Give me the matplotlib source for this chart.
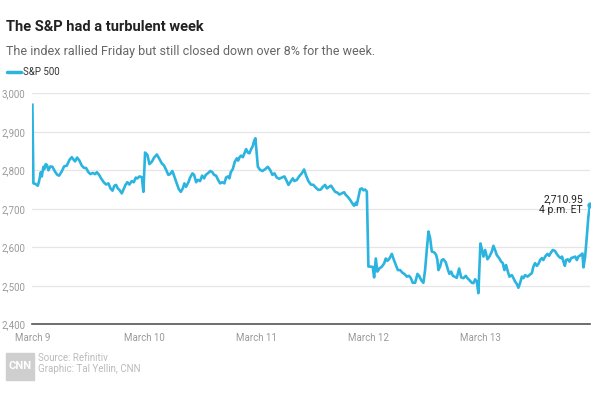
import numpy as np
import matplotlib.pyplot as plt
from matplotlib.patches import Rectangle

# ── data: S&P 500 intraday, position within each trading day (0 = open, 1 = close)
day_labels = ["March 9", "March 10", "March 11", "March 12", "March 13"]

mar9_frac = [0.000, 0.009, 0.024, 0.048, 0.060, 0.075, 0.084, 0.098, 0.107, 0.119,
             0.131, 0.143, 0.161, 0.179, 0.203, 0.223, 0.238, 0.262, 0.283, 0.307,
             0.331, 0.352, 0.369, 0.381, 0.399, 0.420, 0.441, 0.462, 0.479, 0.500,
             0.518, 0.539, 0.560, 0.575, 0.596, 0.613, 0.637, 0.658, 0.679, 0.697,
             0.715, 0.732, 0.747, 0.762, 0.777, 0.798, 0.813, 0.831, 0.848, 0.866,
             0.887, 0.905, 0.923, 0.938, 0.956, 0.977, 0.991]
mar9_val = [2970, 2766, 2765, 2760, 2772, 2795, 2784, 2809, 2803, 2816,
            2813, 2800, 2810, 2809, 2796, 2788, 2786, 2797, 2810, 2812,
            2827, 2834, 2827, 2823, 2833, 2825, 2812, 2806, 2806, 2795,
            2790, 2793, 2790, 2795, 2788, 2779, 2769, 2763, 2766, 2753,
            2747, 2760, 2762, 2753, 2749, 2740, 2750, 2762, 2769, 2763,
            2772, 2769, 2781, 2779, 2784, 2782, 2744]

mar10_frac = [0.006, 0.027, 0.045, 0.066, 0.087, 0.111, 0.131, 0.155, 0.176, 0.194,
              0.214, 0.229, 0.250, 0.268, 0.289, 0.307, 0.325, 0.343, 0.357, 0.372,
              0.393, 0.408, 0.429, 0.444, 0.462, 0.477, 0.497, 0.515, 0.533, 0.548,
              0.566, 0.587, 0.607, 0.622, 0.640, 0.658, 0.676, 0.696, 0.714, 0.729,
              0.745, 0.759, 0.771, 0.789, 0.807, 0.825, 0.837, 0.848, 0.863, 0.879,
              0.893, 0.908, 0.923, 0.938, 0.953, 0.968, 0.979, 0.991]
mar10_val = [2846, 2840, 2816, 2822, 2833, 2841, 2831, 2818, 2812, 2801,
             2788, 2790, 2798, 2783, 2766, 2751, 2744, 2753, 2766, 2757,
             2769, 2781, 2792, 2788, 2769, 2775, 2772, 2786, 2779, 2788,
             2792, 2798, 2795, 2788, 2786, 2775, 2766, 2769, 2766, 2781,
             2784, 2779, 2795, 2803, 2822, 2831, 2825, 2833, 2838, 2834,
             2844, 2855, 2846, 2844, 2855, 2863, 2876, 2883]

mar11_frac = [0.013, 0.033, 0.054, 0.078, 0.102, 0.122, 0.143, 0.161, 0.182, 0.203,
              0.227, 0.250, 0.271, 0.286, 0.307, 0.325, 0.339, 0.361, 0.381, 0.405,
              0.426, 0.444, 0.464, 0.486, 0.509, 0.530, 0.554, 0.575, 0.593, 0.613,
              0.629, 0.649, 0.667, 0.682, 0.703, 0.723, 0.741, 0.763, 0.783, 0.798,
              0.816, 0.837, 0.857, 0.872, 0.888, 0.896, 0.911, 0.926, 0.941, 0.955,
              0.970, 0.986]
mar11_val = [2809, 2801, 2798, 2803, 2809, 2801, 2788, 2792, 2781, 2778,
             2781, 2784, 2772, 2762, 2771, 2779, 2772, 2775, 2784, 2792,
             2802, 2786, 2772, 2763, 2762, 2755, 2749, 2750, 2757, 2762,
             2753, 2757, 2760, 2753, 2744, 2742, 2737, 2740, 2743, 2736,
             2731, 2723, 2714, 2708, 2716, 2710, 2731, 2751, 2753, 2748,
             2750, 2745]

mar12_frac = [0.000, 0.021, 0.039, 0.051, 0.066, 0.080, 0.098, 0.120, 0.140, 0.155,
              0.170, 0.188, 0.209, 0.223, 0.245, 0.263, 0.283, 0.304, 0.321, 0.343,
              0.363, 0.379, 0.396, 0.417, 0.438, 0.453, 0.471, 0.491, 0.506, 0.521,
              0.536, 0.551, 0.566, 0.587, 0.604, 0.616, 0.625, 0.640, 0.655, 0.670,
              0.691, 0.709, 0.723, 0.739, 0.754, 0.768, 0.789, 0.810, 0.828, 0.848,
              0.870, 0.884, 0.902, 0.923, 0.938, 0.953, 0.968, 0.982]
mar12_val = [2550, 2550, 2549, 2522, 2571, 2537, 2545, 2550, 2558, 2571,
             2565, 2571, 2583, 2571, 2554, 2541, 2541, 2534, 2531, 2524,
             2526, 2520, 2508, 2508, 2531, 2526, 2515, 2508, 2541, 2593,
             2641, 2624, 2589, 2587, 2581, 2567, 2541, 2550, 2567, 2569,
             2561, 2543, 2531, 2537, 2526, 2524, 2521, 2545, 2522, 2520,
             2526, 2520, 2515, 2508, 2507, 2517, 2511, 2481]

mar13_frac = [0.000, 0.013, 0.027, 0.042, 0.063, 0.080, 0.102, 0.116, 0.131, 0.146,
              0.167, 0.185, 0.200, 0.214, 0.229, 0.245, 0.259, 0.280, 0.295, 0.310,
              0.325, 0.339, 0.354, 0.370, 0.384, 0.399, 0.420, 0.438, 0.459, 0.473,
              0.488, 0.504, 0.518, 0.533, 0.548, 0.562, 0.578, 0.598, 0.613, 0.629,
              0.646, 0.664, 0.682, 0.700, 0.718, 0.729, 0.741, 0.754, 0.765, 0.780,
              0.795, 0.810, 0.830, 0.846, 0.861, 0.875, 0.896, 0.911, 0.920, 0.935,
              0.950, 0.964, 0.979]
mar13_val = [2610, 2595, 2576, 2593, 2569, 2576, 2589, 2604, 2593, 2580,
             2572, 2563, 2559, 2541, 2554, 2537, 2524, 2528, 2520, 2511,
             2505, 2495, 2507, 2524, 2520, 2528, 2524, 2528, 2533, 2550,
             2559, 2552, 2557, 2567, 2572, 2567, 2576, 2583, 2578, 2586,
             2593, 2591, 2583, 2576, 2572, 2576, 2563, 2552, 2567, 2569,
             2563, 2572, 2574, 2576, 2567, 2576, 2580, 2584, 2548, 2576,
             2628, 2680, 2710.95]

y_ticks = [2400, 2500, 2600, 2700, 2800, 2900, 3000]

# ── build continuous series (day index + fraction)
days_frac = [mar9_frac, mar10_frac, mar11_frac, mar12_frac, mar13_frac]
days_val = [mar9_val, mar10_val, mar11_val, mar12_val, mar13_val]
t = np.concatenate([d + np.array(f) for d, f in enumerate(days_frac)])
v = np.concatenate([np.array(x, dtype=float) for x in days_val])

line_color = '#2cb4e0'
plt.rcParams['font.family'] = ['Roboto', 'DejaVu Sans']

fig = plt.figure(figsize=(6, 4), dpi=100, facecolor='white')
ax = fig.add_axes([0.054, 0.189, 0.93, 0.578])

ax.plot(t, v, color=line_color, lw=1.9, solid_joinstyle='round')
ax.plot(t[-1], v[-1], 'o', color=line_color, ms=3.5)

ax.set_xlim(0, t[-1] + 0.003)
ax.set_ylim(2400, 3000)
ax.set_yticks(y_ticks)
ax.set_yticklabels([f"{y:,}" for y in y_ticks])
ax.set_xticks(range(len(day_labels)))
ax.set_xticklabels(day_labels)
ax.tick_params(axis='both', length=0, labelsize=7, labelcolor='#9a9a9a')
ax.tick_params(axis='y', pad=5)
ax.tick_params(axis='x', pad=6)

ax.grid(axis='y', color='#e6e6e6', lw=0.9)
ax.set_axisbelow(True)
for s in ['top', 'right', 'left']:
    ax.spines[s].set_visible(False)
ax.spines['bottom'].set_color('#555555')
ax.spines['bottom'].set_linewidth(1.2)

ax.annotate("2,710.95\n4 p.m. ET", xy=(t[-1], v[-1]), xytext=(-5, 0),
            textcoords='offset points', ha='right', va='center',
            fontsize=7.5, color='#222222', linespacing=1.1)

# ── titles, legend
fig.text(0.01, 0.932, "The S&P had a turbulent week", fontsize=10.5, fontweight='bold',
         color='#222222', va='center')
fig.text(0.01, 0.872, "The index rallied Friday but still closed down over 8% for the week.",
         fontsize=9, color='#666666', va='center')
fig.add_artist(plt.Line2D([0.011, 0.035], [0.82, 0.82], color=line_color, lw=2.5,
                          solid_capstyle='round'))
fig.text(0.038, 0.82, "S&P 500", fontsize=7, color='#333333', va='center')

# ── footer
fig.add_artist(Rectangle((0.01, 0.05), 0.046, 0.068, color='#cfcfcf'))
fig.text(0.033, 0.084, "CNN", fontsize=8, fontweight='bold', color='white',
         ha='center', va='center')
fig.text(0.064, 0.105, "Source: Refinitiv", fontsize=7, color='#bbbbbb', va='center')
fig.text(0.064, 0.077, "Graphic: Tal Yellin, CNN", fontsize=7, color='#bbbbbb', va='center')

fig.savefig('out.png', dpi=100, facecolor='white')
